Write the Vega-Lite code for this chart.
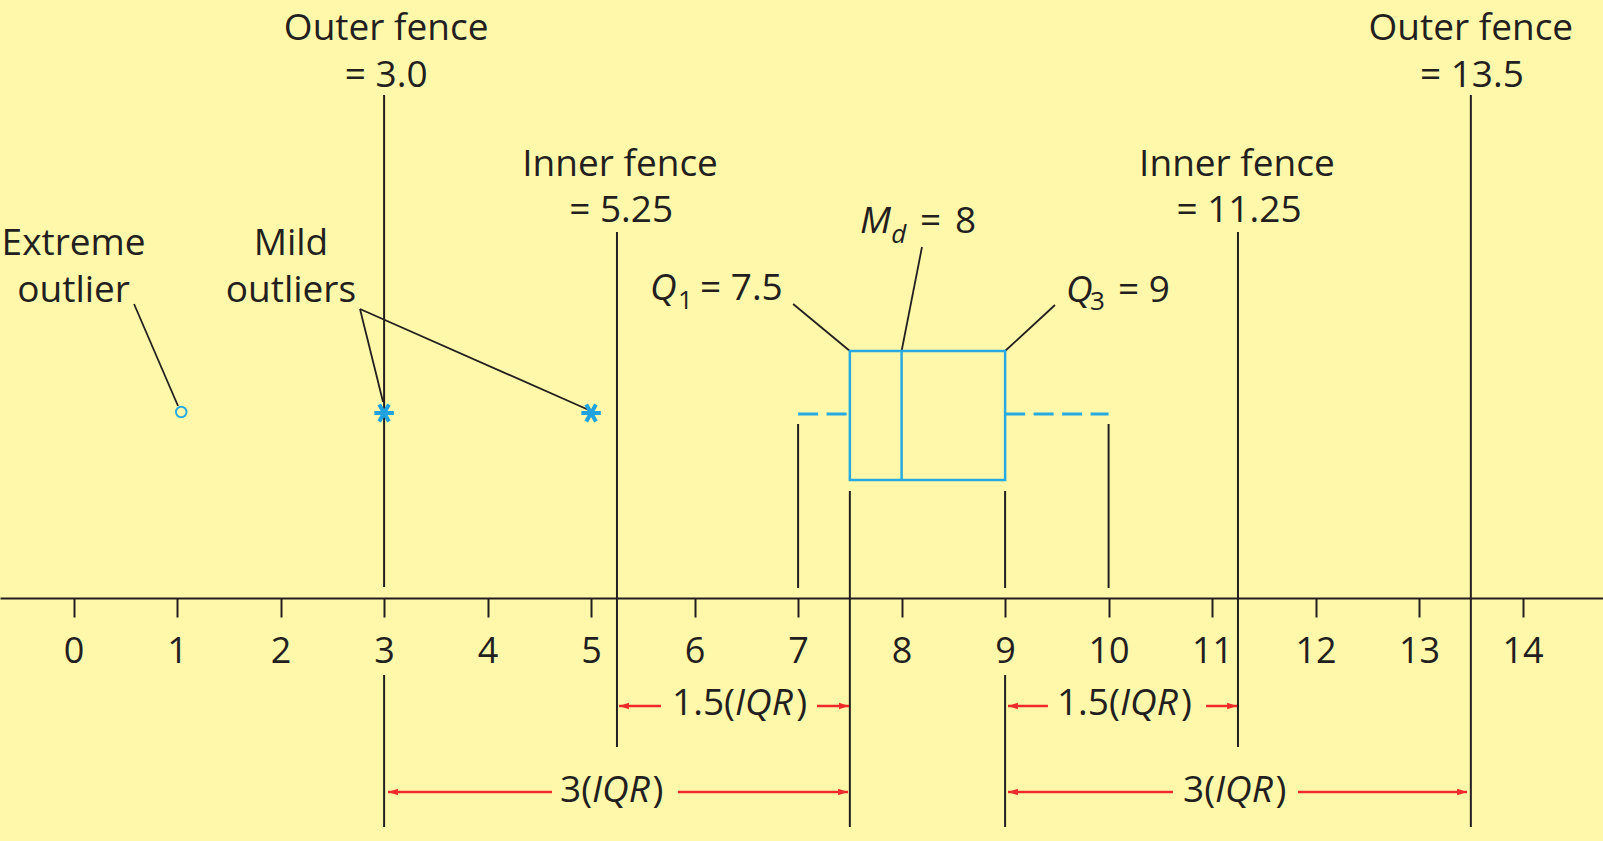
{
  "$schema": "https://vega.github.io/schema/vega-lite/v6.json",
  "width": 1603,
  "height": 841,
  "padding": 0,
  "autosize": {"type": "none"},
  "background": "#FFF8AB",
  "config": {"view": {"stroke": null}},
  "datasets": {
    "vlines": [
      {"x": 3, "y": 503, "y2": 11}, {"x": 3, "y": -77, "y2": -229},
      {"x": 5.25, "y": 366, "y2": -149},
      {"x": 7, "y": 174, "y2": 10},
      {"x": 7.5, "y": 107, "y2": -229},
      {"x": 9, "y": 107, "y2": 10}, {"x": 9, "y": -77, "y2": -229},
      {"x": 10, "y": 174, "y2": 10},
      {"x": 11.25, "y": 366, "y2": -149},
      {"x": 13.5, "y": 503, "y2": -229}
    ],
    "leaders": [
      {"x": 0.584, "y": 294, "x2": 1.009, "y2": 192},
      {"x": 2.767, "y": 289, "x2": 2.99, "y2": 196},
      {"x": 2.767, "y": 289, "x2": 5.0, "y2": 187},
      {"x": 6.952, "y": 294, "x2": 7.5, "y2": 247},
      {"x": 8.197, "y": 351, "x2": 8.0, "y2": 247},
      {"x": 9.482, "y": 293, "x2": 9.0, "y2": 247}
    ],
    "box": [{"x": 7.5, "x2": 9, "y": 118, "y2": 247}],
    "median": [{"x": 8, "y": 118, "y2": 247}],
    "whiskers": [{"x": 7, "x2": 7.5, "y": 184}, {"x": 9, "x2": 10, "y": 184}],
    "extreme": [{"x": 1.04, "y": 186}],
    "mild": [{"x": 3, "y": 185}, {"x": 5, "y": 185}],
    "arrows": [
      {"x": 5.27, "x2": 5.676, "y": -108}, {"x": 7.182, "x2": 7.491, "y": -108},
      {"x": 9.028, "x2": 9.414, "y": -108}, {"x": 10.942, "x2": 11.241, "y": -108},
      {"x": 3.038, "x2": 4.622, "y": -194}, {"x": 5.839, "x2": 7.482, "y": -194},
      {"x": 9.028, "x2": 10.622, "y": -194}, {"x": 11.83, "x2": 13.463, "y": -194}
    ],
    "heads": [
      {"x": 5.27, "y": -108, "dir": "left"}, {"x": 7.491, "y": -108, "dir": "right"},
      {"x": 9.028, "y": -108, "dir": "left"}, {"x": 11.241, "y": -108, "dir": "right"},
      {"x": 3.038, "y": -194, "dir": "left"}, {"x": 7.482, "y": -194, "dir": "right"},
      {"x": 9.028, "y": -194, "dir": "left"}, {"x": 13.463, "y": -194, "dir": "right"}
    ],
    "ctext": [
      {"x": 3.02, "y": 558, "t": "Outer fence"},
      {"x": 3.02, "y": 511, "t": "= 3.0"},
      {"x": 5.28, "y": 422, "t": "Inner fence"},
      {"x": 5.29, "y": 376, "t": "= 5.25"},
      {"x": 11.24, "y": 422, "t": "Inner fence"},
      {"x": 11.26, "y": 376, "t": "= 11.25"},
      {"x": 13.5, "y": 558, "t": "Outer fence"},
      {"x": 13.51, "y": 511, "t": "= 13.5"},
      {"x": 0.0, "y": 343, "t": "Extreme"},
      {"x": 0.0, "y": 296, "t": "outlier"},
      {"x": 2.1, "y": 343, "t": "Mild"},
      {"x": 2.1, "y": 296, "t": "outliers"}
    ],
    "ltext": [
      {"x": 6.052, "y": 298, "t": "= 7.5"},
      {"x": 8.178, "y": 365, "t": "="},
      {"x": 8.516, "y": 365, "t": "8"},
      {"x": 10.091, "y": 296, "t": "= 9"},
      {"x": 5.782, "y": -117, "t": "1.5("},
      {"x": 6.981, "y": -117, "t": ")"},
      {"x": 9.501, "y": -117, "t": "1.5("},
      {"x": 10.699, "y": -117, "t": ")"},
      {"x": 4.7, "y": -204, "t": "3("},
      {"x": 5.593, "y": -204, "t": ")"},
      {"x": 10.719, "y": -204, "t": "3("},
      {"x": 11.612, "y": -204, "t": ")"}
    ],
    "itext": [
      {"x": 5.57, "y": 298, "t": "Q"},
      {"x": 7.599, "y": 365, "t": "M"},
      {"x": 9.589, "y": 296, "t": "Q"},
      {"x": 6.39, "y": -117, "t": "IQR"},
      {"x": 10.11, "y": -117, "t": "IQR"},
      {"x": 5.009, "y": -204, "t": "IQR"},
      {"x": 11.028, "y": -204, "t": "IQR"}
    ],
    "subtext": [
      {"x": 5.839, "y": 289, "t": "1"},
      {"x": 9.82, "y": 288, "t": "3"}
    ],
    "subitext": [
      {"x": 7.899, "y": 355, "t": "d"}
    ]
  },
  "encoding": {
    "x": {
      "field": "x", "type": "quantitative",
      "scale": {"domain": [-0.7111, 14.7768], "nice": false, "zero": false},
      "axis": {
        "orient": "bottom", "offset": -243, "title": null, "grid": false,
        "values": [0, 1, 2, 3, 4, 5, 6, 7, 8, 9, 10, 11, 12, 13, 14], "format": "d",
        "domainColor": "#231F20", "domainWidth": 2,
        "tickColor": "#231F20", "tickWidth": 2, "tickSize": 19,
        "labelFont": "Open Sans", "labelFontSize": 36, "labelColor": "#231F20",
        "labelPadding": 17, "labelFlush": false, "labelOverlap": false
      }
    },
    "y": {
      "field": "y", "type": "quantitative",
      "scale": {"domain": [-243, 598], "nice": false, "zero": false},
      "axis": null
    }
  },
  "layer": [
    {"data": {"name": "vlines"}, "mark": {"type": "rule", "color": "#231F20", "strokeWidth": 2}, "encoding": {"y2": {"field": "y2"}}},
    {"data": {"name": "leaders"}, "mark": {"type": "rule", "color": "#231F20", "strokeWidth": 1.8}, "encoding": {"x2": {"field": "x2"}, "y2": {"field": "y2"}}},
    {"data": {"name": "box"}, "mark": {"type": "rect", "fill": "transparent", "stroke": "#27AAE1", "strokeWidth": 2.5}, "encoding": {"x2": {"field": "x2"}, "y2": {"field": "y2"}}},
    {"data": {"name": "median"}, "mark": {"type": "rule", "color": "#27AAE1", "strokeWidth": 2.5}, "encoding": {"y2": {"field": "y2"}}},
    {"data": {"name": "whiskers"}, "mark": {"type": "rule", "color": "#27AAE1", "strokeWidth": 3, "strokeDash": [20, 8.5]}, "encoding": {"x2": {"field": "x2"}}},
    {"data": {"name": "extreme"}, "mark": {"type": "point", "shape": "circle", "filled": false, "color": "#27AAE1", "strokeWidth": 2, "size": 110, "opacity": 1}},
    {"data": {"name": "mild"}, "mark": {"type": "point", "shape": "M-1,0L1,0M-0.5,-0.866L0.5,0.866M-0.5,0.866L0.5,-0.866", "filled": false, "color": "#1FA3E0", "strokeWidth": 4, "size": 380, "opacity": 1}},
    {"data": {"name": "arrows"}, "mark": {"type": "rule", "color": "#EE2A2A", "strokeWidth": 2.5}, "encoding": {"x2": {"field": "x2"}}},
    {"data": {"name": "heads"}, "mark": {"type": "point", "filled": true, "color": "#EE2A2A", "size": 36, "opacity": 1, "strokeWidth": 0},
     "encoding": {"shape": {"field": "dir", "type": "nominal", "legend": null,
       "scale": {"domain": ["left", "right"], "range": ["M0,0L3.3,-1.1L3.3,1.1Z", "M0,0L-3.3,-1.1L-3.3,1.1Z"]}}}},
    {"data": {"name": "ctext"}, "mark": {"type": "text", "font": "Open Sans", "fontSize": 37, "color": "#231F20", "align": "center", "baseline": "alphabetic"}, "encoding": {"text": {"field": "t"}}},
    {"data": {"name": "ltext"}, "mark": {"type": "text", "font": "Open Sans", "fontSize": 37, "color": "#231F20", "align": "left", "baseline": "alphabetic"}, "encoding": {"text": {"field": "t"}}},
    {"data": {"name": "itext"}, "mark": {"type": "text", "font": "Open Sans", "fontStyle": "italic", "fontSize": 37, "color": "#231F20", "align": "left", "baseline": "alphabetic"}, "encoding": {"text": {"field": "t"}}},
    {"data": {"name": "subtext"}, "mark": {"type": "text", "font": "Open Sans", "fontSize": 26, "color": "#231F20", "align": "left", "baseline": "alphabetic"}, "encoding": {"text": {"field": "t"}}},
    {"data": {"name": "subitext"}, "mark": {"type": "text", "font": "Open Sans", "fontStyle": "italic", "fontSize": 26, "color": "#231F20", "align": "left", "baseline": "alphabetic"}, "encoding": {"text": {"field": "t"}}}
  ]
}
